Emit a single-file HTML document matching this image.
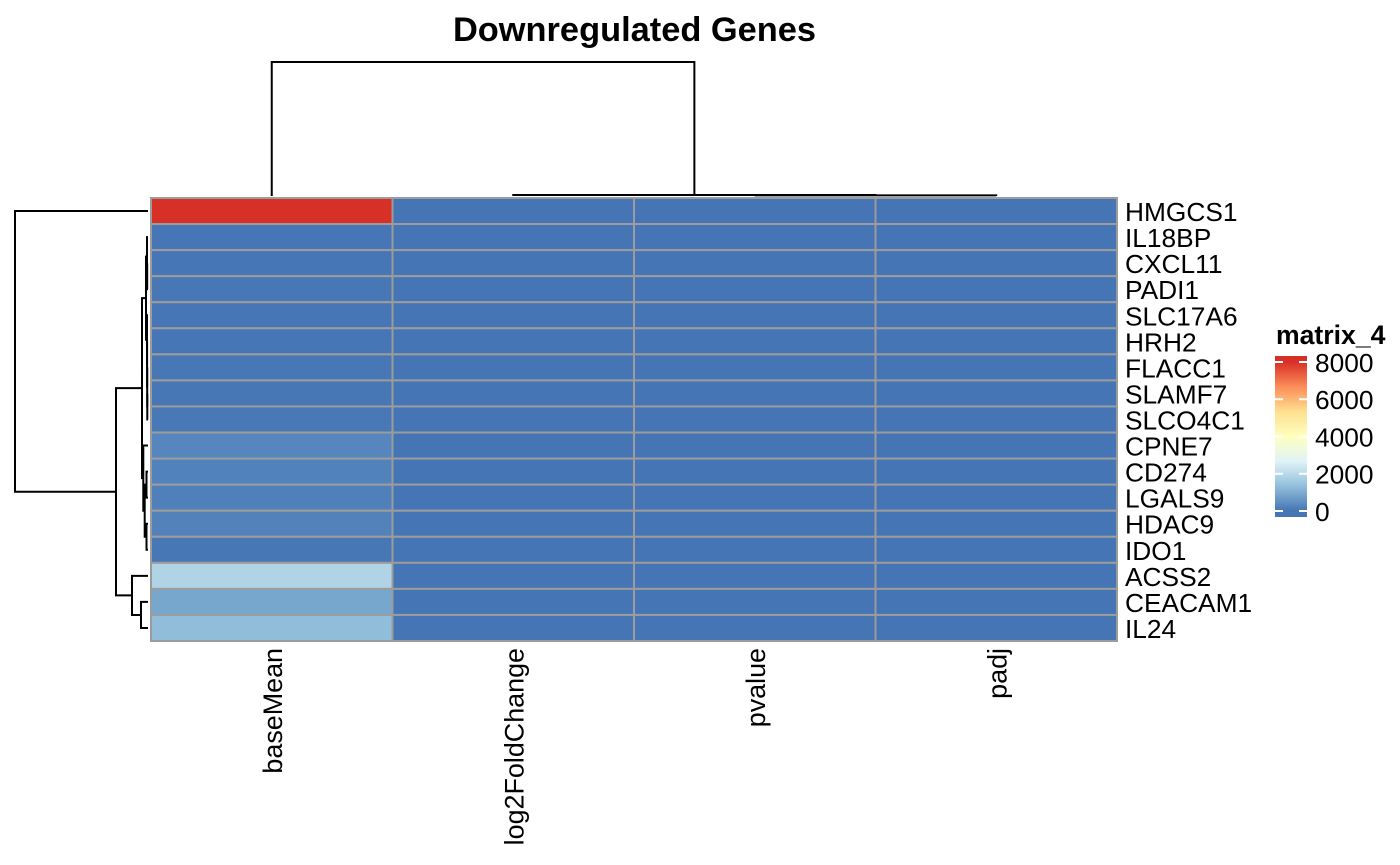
<!DOCTYPE html>
<html>
<head>
<meta charset="utf-8">
<title>Downregulated Genes</title>
<style>
html,body{margin:0;padding:0;background:#fff}
svg{display:block;font-family:"Liberation Sans",Arial,sans-serif}
</style>
</head>
<body>
<svg id="chart" xmlns="http://www.w3.org/2000/svg" width="1400" height="865" viewBox="0 0 1400 865">
<defs><linearGradient id="legendGradient" x1="0" y1="1" x2="0" y2="0"></linearGradient></defs>
<text x="634.5" y="41" text-anchor="middle" font-size="34.4" font-weight="bold">Downregulated Genes</text>
<g id="row-dendrogram"></g>
<g id="col-dendrogram"></g>
<g id="cells"></g>
<g id="row-labels"></g>
<g id="col-labels"></g>
<g id="legend"></g>
</svg>
<script>
var genes = ["HMGCS1","IL18BP","CXCL11","PADI1","SLC17A6","HRH2","FLACC1","SLAMF7","SLCO4C1","CPNE7","CD274","LGALS9","HDAC9","IDO1","ACSS2","CEACAM1","IL24"];
var conditions = ["baseMean","log2FoldChange","pvalue","padj"];
var baseMean = [8000,20,25,30,20,25,30,35,60,300,230,200,240,40,1850,900,1300];
var log2FoldChange = [2,2,2,2,2,2,2,2,2,2,2,2,2,2,2,2,2];
var pvalue = [0,0,0,0,0,0,0,0,0,0,0,0,0,0,0,0,0];
var padj = [0,0,0,0,0,0,0,0,0,0,0,0,0,0,0,0,0];
var legendTicks = [0,2000,4000,6000,8000];
var paletteValues = [0,1333,2667,4000,5333,6667,8000];
var paletteColors = ["#4575B4","#91BFDB","#E0F3F8","#FFFFBF","#FEE090","#FC8D59","#D73027"];
/* Dendrograms: [mergeHeight, left, right]; a bare number is a leaf index */
var rowTree = [6650, 0,
  [1600,
    [300,
      [100,
        [50, 1, [40, 2, 3]],
        [50, 4, [45, 5, [40, 6, [35, 7, 8]]]]
      ],
      [235, 9,
        [165, [75, 10, 11], [75, 12, 13]]
      ]
    ],
    [800, 14, [350, 15, 16]]
  ]
];
var colTree = [6700, 0, [50, 1, [30, 2, 3]]];

var svgNS = "http://www.w3.org/2000/svg";
var plot = {left:151, right:1117, top:198, bottom:641};
var rowStep = (plot.bottom-plot.top)/genes.length;
var colStep = (plot.right-plot.left)/conditions.length;
function rowY(i){return plot.top + rowStep*(i+0.5);}
function colX(j){return plot.left + colStep*(j+0.5);}
function rowHeightX(h){return 148 - h/6650*133;}
function colHeightY(h){return 196 - h/6700*134;}
function legendY(v){return 511 - v/8000*149;}

function hexToRgb(c){return [parseInt(c.substr(1,2),16),parseInt(c.substr(3,2),16),parseInt(c.substr(5,2),16)];}
function colorFor(v){
  if(v<=paletteValues[0])return paletteColors[0];
  var n=paletteValues.length-1;
  if(v>=paletteValues[n])return paletteColors[n];
  for(var i=0;i<n;i++){
    if(v<=paletteValues[i+1]){
      var t=(v-paletteValues[i])/(paletteValues[i+1]-paletteValues[i]);
      var a=hexToRgb(paletteColors[i]),b=hexToRgb(paletteColors[i+1]);
      return "rgb("+Math.round(a[0]+(b[0]-a[0])*t)+","+Math.round(a[1]+(b[1]-a[1])*t)+","+Math.round(a[2]+(b[2]-a[2])*t)+")";
    }
  }
}
function make(tag,attrs,parent){
  var el=document.createElementNS(svgNS,tag);
  for(var k in attrs){el.setAttribute(k,attrs[k]);}
  parent.appendChild(el);
  return el;
}

/* heatmap cells */
var cellsG=document.getElementById("cells");
var matrix=[baseMean,log2FoldChange,pvalue,padj];
matrix.forEach(function(series,j){
  series.forEach(function(v,i){
    var r=make("rect",{x:plot.left+colStep*j,y:plot.top+rowStep*i,width:colStep,height:rowStep,fill:colorFor(v),stroke:"#9c9c9c","stroke-width":2},cellsG);
    
    
  });
});

/* labels */
var rowLabelG=document.getElementById("row-labels");
genes.forEach(function(g,i){
  var t=make("text",{x:1125,y:rowY(i)+10,"font-size":26.3},rowLabelG);
  t.textContent=g;
  
  
});
var colLabelG=document.getElementById("col-labels");
conditions.forEach(function(c,j){
  var x=colX(j)+10;
  var t=make("text",{x:x,y:648,"font-size":26.9,"text-anchor":"end",transform:"rotate(-90 "+x+" 648)"},colLabelG);
  t.textContent=c;
  
  
});

/* dendrograms */
function drawRowNode(node,parent){
  if(typeof node==="number"){return {y:rowY(node),x:rowHeightX(0)};}
  var a=drawRowNode(node[1],parent),b=drawRowNode(node[2],parent);
  var x=rowHeightX(node[0]);
  var p=make("path",{d:"M"+a.x+" "+a.y+"H"+x+"V"+b.y+"H"+b.x,fill:"none",stroke:"#000","stroke-width":2},parent);
  
  
  return {y:(a.y+b.y)/2,x:x};
}
function drawColNode(node,parent){
  if(typeof node==="number"){return {x:colX(node),y:colHeightY(0)};}
  var a=drawColNode(node[1],parent),b=drawColNode(node[2],parent);
  var y=colHeightY(node[0]);
  var p=make("path",{d:"M"+a.x+" "+a.y+"V"+y+"H"+b.x+"V"+b.y,fill:"none",stroke:"#000","stroke-width":2},parent);
  
  
  return {x:(a.x+b.x)/2,y:y};
}
drawRowNode(rowTree,document.getElementById("row-dendrogram"));
drawColNode(colTree,document.getElementById("col-dendrogram"));

/* legend */
var legendG=document.getElementById("legend");
var lt=make("text",{x:1276,y:344,"font-size":26.6,"font-weight":"bold"},legendG);
lt.textContent="matrix_4";


var grad=document.getElementById("legendGradient");
var gradBottom=legendY(-322),gradTop=legendY(8322);
paletteValues.forEach(function(v,i){
  var off=(legendY(v)-gradBottom)/(gradTop-gradBottom)*100;
  make("stop",{offset:off+"%","stop-color":paletteColors[i]},grad);
});
var bar=make("rect",{x:1275,y:gradTop,width:32,height:gradBottom-gradTop,fill:"url(#legendGradient)"},legendG);


legendTicks.forEach(function(v){
  var y=legendY(v);
  var l1=make("line",{x1:1275,x2:1283,y1:y,y2:y,stroke:"#fff","stroke-width":2},legendG);
  
  
  var l2=make("line",{x1:1299,x2:1307,y1:y,y2:y,stroke:"#fff","stroke-width":2},legendG);
  
  
  var t=make("text",{x:1315,y:y+9.8,"font-size":26.3},legendG);
  t.textContent=String(v);
  
  
});
</script>
</body>
</html>
